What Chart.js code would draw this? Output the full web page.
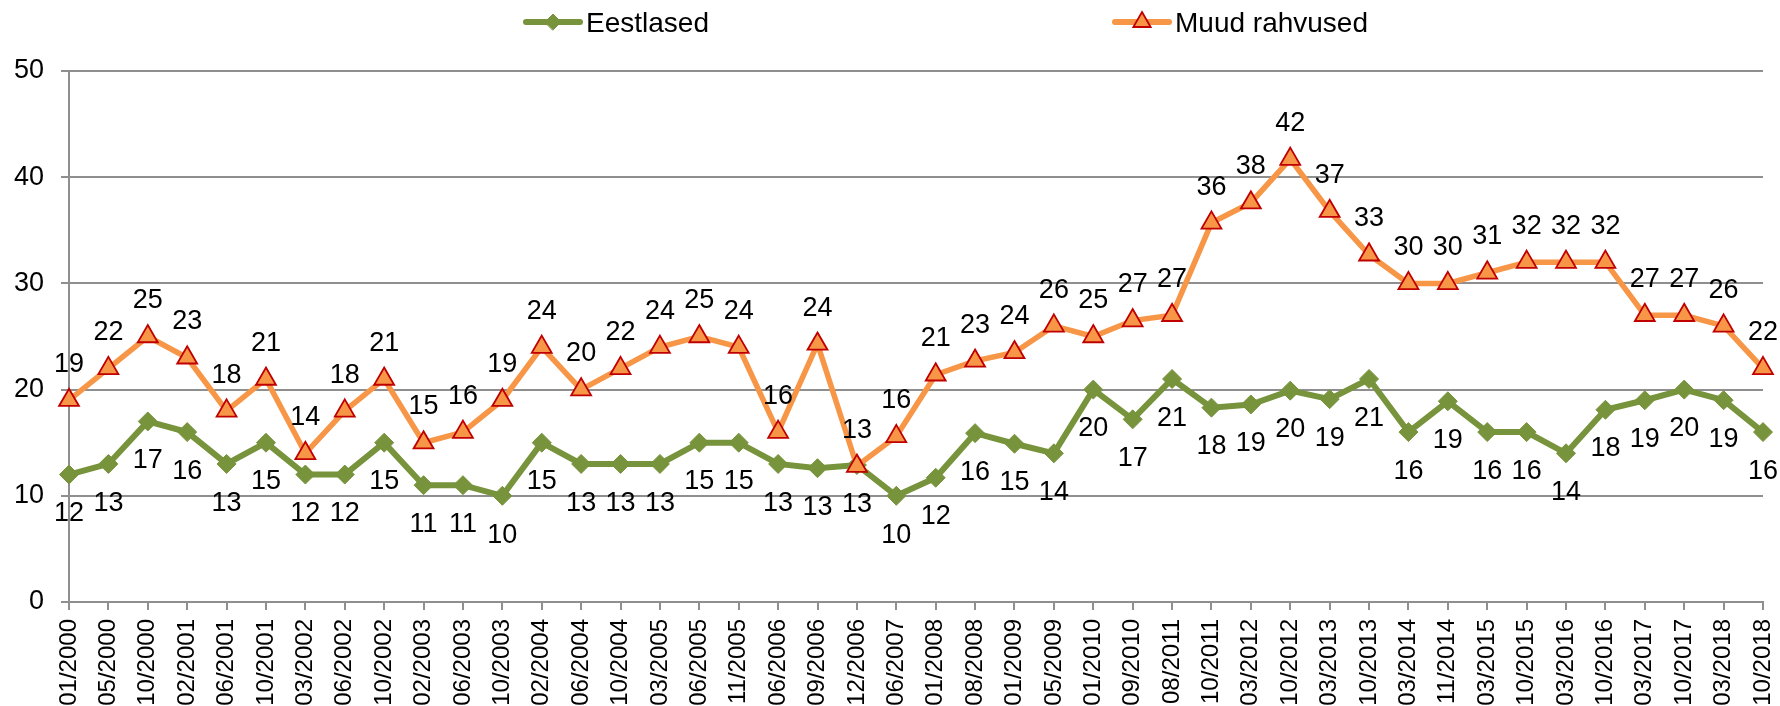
<!DOCTYPE html>
<html>
<head>
<meta charset="utf-8">
<script src="https://cdn.jsdelivr.net/npm/chart.js"></script>
<style>
  body { margin: 0; background: #fff; }
  canvas { display: block; }
</style>
</head>
<body>
<canvas id="chart" width="1780" height="706"></canvas>
<script>
const periods = ['01/2000', '05/2000', '10/2000', '02/2001', '06/2001', '10/2001', '03/2002', '06/2002', '10/2002',
  '02/2003', '06/2003', '10/2003', '02/2004', '06/2004', '10/2004', '03/2005', '06/2005', '11/2005', '06/2006',
  '09/2006', '12/2006', '06/2007', '01/2008', '08/2008', '01/2009', '05/2009', '01/2010', '09/2010', '08/2011',
  '10/2011', '03/2012', '10/2012', '03/2013', '10/2013', '03/2014', '11/2014', '03/2015', '10/2015', '03/2016',
  '10/2016', '03/2017', '10/2017', '03/2018', '10/2018'];

const eestlased = [12, 13, 17, 16, 13, 15, 12, 12, 15, 11, 11, 10, 15, 13, 13, 13, 15, 15, 13, 12.6, 12.9, 10,
  11.7, 15.9, 14.9, 14, 20, 17.2, 21, 18.3, 18.6, 19.9, 19.1, 21, 16, 18.9, 16, 16, 14, 18.1, 19, 20, 19, 16];

const muudRahvused = [19, 22, 25, 23, 18, 21, 14, 18, 21, 15, 16, 19, 24, 20, 22, 24, 25, 24, 16, 24.3, 12.8, 15.6,
  21.4, 22.7, 23.5, 26, 25, 26.5, 27, 35.7, 37.6, 41.7, 36.8, 32.7, 30, 30, 31, 32, 32, 32, 27, 27, 26, 22];

const yTicks = [0, 10, 20, 30, 40, 50];

const FONT = '"Liberation Sans", Arial, sans-serif';
const GREEN = '#77933C';
const ORANGE = '#F79646';
const RED = '#C00000';
const GRID = '#8f8f8f';

// value labels: orange above the point, green below
const valueLabels = {
  id: 'valueLabels',
  afterDatasetsDraw(chart) {
    const ctx = chart.ctx;
    ctx.save();
    ctx.font = '27px ' + FONT;
    ctx.fillStyle = '#000';
    ctx.textAlign = 'center';
    ctx.textBaseline = 'alphabetic';
    chart.data.datasets.forEach((ds, i) => {
      const meta = chart.getDatasetMeta(i);
      const dy = ds.labelPos === 'above' ? -38 : 37;
      meta.data.forEach((pt, j) => {
        ctx.fillText(String(Math.round(ds.data[j])), pt.x, pt.y + dy + 9.7);
      });
    });
    ctx.restore();
  }
};

// Excel-like legend: short line with marker, then the text
const lineLegend = {
  id: 'lineLegend',
  afterDraw(chart) {
    const ctx = chart.ctx;
    const items = [
      { ds: chart.data.datasets[0], x: 526 },
      { ds: chart.data.datasets[1], x: 1115 }
    ];
    const y = 22;
    ctx.save();
    items.forEach(it => {
      ctx.strokeStyle = it.ds.borderColor;
      ctx.lineWidth = 6;
      ctx.lineCap = 'round';
      ctx.beginPath();
      ctx.moveTo(it.x, y);
      ctx.lineTo(it.x + 54, y);
      ctx.stroke();
      ctx.fillStyle = it.ds.pointBackgroundColor;
      ctx.strokeStyle = it.ds.pointBorderColor;
      ctx.lineWidth = it.ds.pointBorderWidth;
      Chart.helpers.drawPoint(ctx, { pointStyle: it.ds.pointStyle, radius: it.ds.pointRadius - 1.5, rotation: 0, borderWidth: it.ds.pointBorderWidth }, it.x + 27, y);
      ctx.fillStyle = '#000';
      ctx.font = '28px ' + FONT;
      ctx.textAlign = 'left';
      ctx.textBaseline = 'alphabetic';
      ctx.fillText(it.ds.label, it.x + 60, y + 10);
    });
    ctx.restore();
  }
};

new Chart(document.getElementById('chart'), {
  type: 'line',
  data: {
    labels: periods,
    datasets: [{
      label: 'Eestlased',
      data: eestlased,
      borderColor: GREEN,
      borderWidth: 6,
      pointStyle: 'rectRot',
      pointRadius: 9.5,
      pointBackgroundColor: GREEN,
      pointBorderColor: GREEN,
      pointBorderWidth: 1,
      labelPos: 'below',
      order: 1
    }, {
      label: 'Muud rahvused',
      data: muudRahvused,
      borderColor: ORANGE,
      borderWidth: 5.5,
      pointStyle: 'triangle',
      pointRadius: 11.5,
      pointBackgroundColor: ORANGE,
      pointBorderColor: RED,
      pointBorderWidth: 1.8,
      labelPos: 'above',
      order: 0
    }]
  },
  options: {
    responsive: false,
    animation: false,
    layout: { padding: { top: 71, right: 17, left: 0, bottom: 0 } },
    plugins: {
      legend: { display: false },
      tooltip: { enabled: false }
    },
    scales: {
      x: {
        grid: { display: true, drawOnChartArea: false, drawTicks: true, tickLength: 8, color: GRID, lineWidth: 2 },
        border: { color: GRID, width: 2 },
        ticks: {
          color: '#000',
          font: { family: FONT, size: 24 },
          minRotation: 90,
          maxRotation: 90,
          autoSkip: false,
          padding: 9
        },
        afterFit(scale) {
          scale.height = 104;
          scale.paddingLeft = 0;
          scale.paddingRight = 0;
        }
      },
      y: {
        min: 0,
        max: 50,
        afterBuildTicks(scale) { scale.ticks = yTicks.map(v => ({ value: v })); },
        grid: { color: GRID, lineWidth: 2, tickLength: 8 },
        border: { color: GRID, width: 2 },
        ticks: {
          color: '#000',
          font: { family: FONT, size: 27 },
          padding: 17
        },
        afterFit(scale) { scale.width = 69; }
      }
    }
  },
  plugins: [valueLabels, lineLegend]
});
</script>
</body>
</html>
